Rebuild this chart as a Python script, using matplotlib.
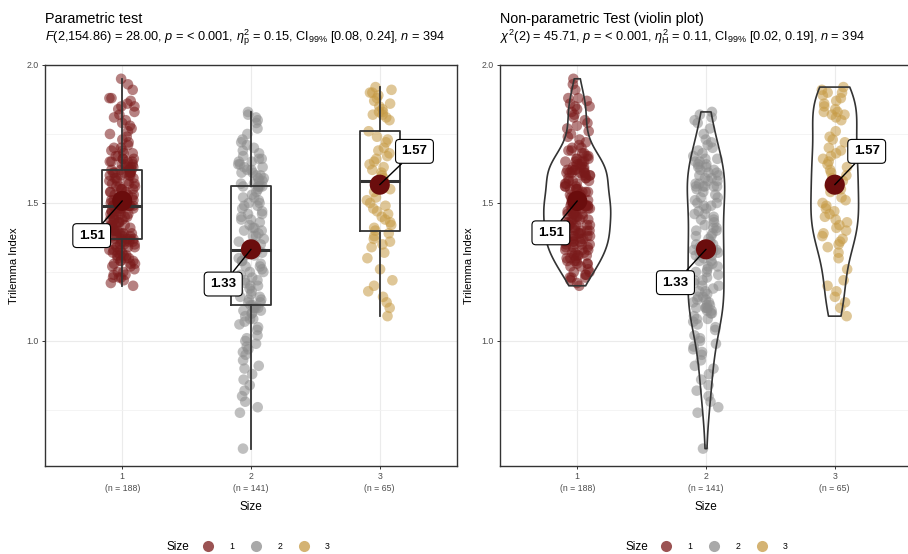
import numpy as np
import matplotlib.pyplot as plt
from matplotlib.lines import Line2D

plt.rcParams["font.family"] = ["Liberation Sans", "DejaVu Sans"]
plt.rcParams["mathtext.fontset"] = "custom"
plt.rcParams["mathtext.rm"] = "Liberation Sans"
plt.rcParams["mathtext.it"] = "Liberation Sans:italic"
plt.rcParams["mathtext.bf"] = "Liberation Sans:bold"

# --------------------------------------------------
# Data
# --------------------------------------------------
SIZE_LEVELS = ["1", "2", "3"]

size_1 = [
    1.20, 1.21, 1.22, 1.23, 1.23, 1.24, 1.24, 1.25, 1.25, 1.26,
    1.27, 1.28, 1.28, 1.28, 1.29, 1.29, 1.29, 1.30, 1.30, 1.30,
    1.31, 1.31, 1.31, 1.32, 1.32, 1.32, 1.33, 1.33, 1.33, 1.34,
    1.34, 1.34, 1.35, 1.35, 1.35, 1.35, 1.36, 1.36, 1.36, 1.36,
    1.37, 1.37, 1.37, 1.37, 1.37, 1.38, 1.38, 1.23, 1.27, 1.31,
    1.38, 1.38, 1.39, 1.39, 1.39, 1.39, 1.40, 1.40, 1.40, 1.40,
    1.41, 1.41, 1.41, 1.42, 1.42, 1.42, 1.42, 1.43, 1.43, 1.43,
    1.44, 1.44, 1.44, 1.44, 1.45, 1.45, 1.45, 1.46, 1.46, 1.46,
    1.46, 1.47, 1.47, 1.47, 1.47, 1.48, 1.48, 1.48, 1.48, 1.49,
    1.49, 1.49, 1.49, 1.49, 1.49, 1.49, 1.49,
    1.50, 1.50, 1.50, 1.51, 1.51, 1.51, 1.51, 1.52, 1.52, 1.52,
    1.53, 1.53, 1.53, 1.54, 1.54, 1.54, 1.55, 1.55, 1.55, 1.55,
    1.56, 1.56, 1.56, 1.57, 1.57, 1.57, 1.58, 1.58, 1.58, 1.59,
    1.59, 1.59, 1.60, 1.60, 1.60, 1.60, 1.61, 1.61, 1.61, 1.61,
    1.61, 1.61, 1.62, 1.62, 1.62, 1.62, 1.62,
    1.63, 1.63, 1.63, 1.64, 1.64, 1.64, 1.65, 1.65, 1.65, 1.66,
    1.65, 1.66, 1.66, 1.67, 1.67, 1.68, 1.68, 1.69, 1.69, 1.70,
    1.70, 1.71, 1.72, 1.73, 1.74, 1.75, 1.76, 1.77, 1.78, 1.79,
    1.80, 1.81, 1.82, 1.83, 1.84, 1.85, 1.85, 1.86, 1.87, 1.88,
    1.88, 1.91, 1.93, 1.95,
]

size_2 = [
    0.61, 0.74, 0.76, 0.78, 0.80, 0.82, 0.84, 0.86, 0.88, 0.90,
    0.91, 0.93, 0.95, 0.96, 0.97, 0.98, 0.99, 1.00, 1.01, 1.02,
    1.04, 1.05, 1.06, 1.07, 1.08, 1.08, 1.09, 1.10, 1.10, 1.11,
    1.11, 1.12, 1.12, 1.12, 1.12,
    1.13, 1.13, 1.14, 1.14, 1.15, 1.15, 1.16, 1.16, 1.17, 1.18,
    1.18, 1.19, 1.20, 1.20, 1.21, 1.22, 1.22, 1.23, 1.24, 1.25,
    1.25, 1.26, 1.27, 1.27, 1.28, 1.29, 1.29, 1.30, 1.31, 1.31,
    1.32, 1.32, 1.33, 1.33, 1.33,
    1.33,
    1.34, 1.35, 1.35, 1.36, 1.37, 1.38, 1.38, 1.39, 1.40, 1.41,
    1.40, 1.41, 1.42, 1.43, 1.44, 1.44, 1.45, 1.46, 1.46, 1.47,
    1.48, 1.49, 1.49, 1.50, 1.50, 1.51, 1.52, 1.52, 1.53, 1.54,
    1.55, 1.56, 1.56, 1.56, 1.56,
    1.56, 1.57, 1.57, 1.58, 1.58, 1.59, 1.59, 1.60, 1.60, 1.61,
    1.61, 1.62, 1.62, 1.63, 1.63, 1.64, 1.64, 1.65, 1.65, 1.66,
    1.66, 1.67, 1.68, 1.69, 1.70, 1.71, 1.72, 1.73, 1.75, 1.77,
    1.79, 1.80, 1.81, 1.82, 1.83,
]

size_3 = [
    1.09, 1.12, 1.14, 1.16, 1.18, 1.20, 1.22, 1.26, 1.30, 1.32,
    1.34, 1.35, 1.36, 1.37, 1.38, 1.39,
    1.40, 1.41, 1.42, 1.43, 1.44, 1.45, 1.46, 1.47, 1.48, 1.49,
    1.50, 1.51, 1.52, 1.54, 1.55, 1.56,
    1.58,
    1.59, 1.60, 1.61, 1.62, 1.63, 1.64, 1.65, 1.66, 1.67, 1.68,
    1.69, 1.70, 1.72, 1.73, 1.74, 1.76,
    1.80, 1.81, 1.82, 1.82, 1.83, 1.83, 1.84, 1.85, 1.86, 1.87,
    1.88, 1.89, 1.90, 1.90, 1.91, 1.92,
]

TITLES = ["Parametric test", "Non-parametric Test (violin plot)"]
SUBTITLES = [
    r"$\mathit{F}$(2,154.86) = 28.00, $\mathit{p}$ = < 0.001, "
    r"$\eta_{\mathrm{p}}^{2}$ = 0.15, CI$_{99\%}$ [0.08, 0.24], $\mathit{n}$ = 394",
    r"$\chi^{2}$(2) = 45.71, $\mathit{p}$ = < 0.001, "
    r"$\eta_{\mathrm{H}}^{2}$ = 0.11, CI$_{99\%}$ [0.02, 0.19], $\mathit{n}$ = 394",
]
Y_LABEL = "Trilemma Index"
X_LABEL = "Size"

COLORS = ["#7a1a1a", "#8c8c8c", "#c69a44"]
MEAN_COLOR = "#6b0d0d"
EDGE = "#333333"

groups = [np.array(size_1), np.array(size_2), np.array(size_3)]
positions = np.arange(1, len(groups) + 1)


def nrd0_factor(kde):
    """Bandwidth facon R (nrd0), exprimee en facteur de l'ecart-type."""
    x = np.ravel(kde.dataset)
    sd = np.std(x, ddof=1)
    iqr = np.subtract(*np.percentile(x, [75, 25]))
    bw = 0.9 * min(sd, iqr / 1.34) * len(x) ** -0.2
    return bw / sd


def jitter(n, seed, width=0.1):
    # decalage horizontal deterministe (hachage sinus), pas une donnee
    i = np.arange(n) + seed
    frac = (np.sin(i * 12.9898) * 43758.5453) % 1.0
    return (frac - 0.5) * 2 * width


def style_axes(ax):
    ax.set_xlim(0.4, 3.6)
    ax.set_ylim(0.547, 2.0)
    ax.set_yticks([1.0, 1.5, 2.0])
    ax.set_yticks([0.75, 1.25, 1.75], minor=True)
    ax.set_yticklabels(["1.0", "1.5", "2.0"])
    ax.set_xticks(positions)
    ax.set_xticklabels([f"{lvl}\n(n = {len(g)})" for lvl, g in zip(SIZE_LEVELS, groups)],
                       linespacing=1.35)
    ax.tick_params(axis="both", which="major", labelsize=6.3, labelcolor="#4d4d4d",
                   color=EDGE, length=2.5, width=0.7, pad=2)
    ax.tick_params(axis="y", which="minor", length=0)
    ax.grid(True, which="major", color="#ebebeb", lw=0.8)
    ax.grid(True, which="minor", axis="y", color="#f2f2f2", lw=0.6)
    ax.set_axisbelow(True)
    for spine in ax.spines.values():
        spine.set_color(EDGE)
        spine.set_linewidth(1.0)
    ax.set_ylabel(Y_LABEL, fontsize=8)
    ax.yaxis.set_label_coords(-0.063, 0.5)
    ax.set_xlabel(X_LABEL, fontsize=8.5)
    ax.xaxis.set_label_coords(0.5, -0.088)


def draw_points(ax, seed):
    for k, (pos, g, color) in enumerate(zip(positions, groups, COLORS)):
        ax.scatter(pos + jitter(len(g), seed + 1000 * k), g, s=58, color=color,
                   alpha=0.55, edgecolors="none", zorder=2)


def draw_means(ax, offsets):
    means = [g.mean() for g in groups]
    ax.scatter(positions, means, s=210, color=MEAN_COLOR, zorder=5, edgecolors="none")
    for pos, m, off in zip(positions, means, offsets):
        ax.annotate(
            f"{m:.2f}", xy=(pos, m), xytext=off, textcoords="offset points",
            ha="center", va="center", fontsize=9.5, fontweight="bold", zorder=6,
            bbox=dict(boxstyle="round,pad=0.45,rounding_size=0.3", fc="white", ec="black", lw=0.8),
            arrowprops=dict(arrowstyle="-", color="black", lw=1.0, shrinkA=0, shrinkB=0),
        )


def draw_legend(fig, x_title, x_keys):
    fig.text(x_title, 0.0135, "Size", fontsize=8.5, ha="right", va="center")
    handles = [
        Line2D([], [], marker="o", ls="none", markersize=8, color=c, alpha=0.75,
               markeredgewidth=0)
        for c in COLORS
    ]
    fig.legend(handles, SIZE_LEVELS, ncol=3, frameon=False, fontsize=6.3,
               loc="center left", bbox_to_anchor=(x_keys, 0.0135),
               handletextpad=1.8, columnspacing=1.9, handlelength=1.2,
               borderpad=0, borderaxespad=0)


W, H = 908, 554
fig = plt.figure(figsize=(W / 100, H / 100), dpi=100)

ax_left = fig.add_axes([45 / W, 1 - 466 / H, 412 / W, 401 / H])
ax_right = fig.add_axes([500 / W, 1 - 466 / H, 412 / W, 401 / H])

# --------------------------------------------------
# Panel gauche : boxplot
# --------------------------------------------------
draw_points(ax_left, 1)
ax_left.boxplot(
    groups, positions=positions, widths=0.31, showfliers=False, showcaps=False,
    boxprops=dict(color=EDGE, lw=1.3), whiskerprops=dict(color=EDGE, lw=1.3),
    medianprops=dict(color=EDGE, lw=2.2), zorder=3,
)
draw_means(ax_left, [(-22, -25), (-20, -25), (25, 24)])
style_axes(ax_left)

# --------------------------------------------------
# Panel droit : violon
# --------------------------------------------------
draw_points(ax_right, 501)
parts = ax_right.violinplot(groups, positions=positions, widths=[0.52, 0.29, 0.37],
                            showextrema=False, bw_method=nrd0_factor)
for body in parts["bodies"]:
    body.set_facecolor("none")
    body.set_edgecolor(EDGE)
    body.set_linewidth(1.2)
    body.set_alpha(1)
    body.set_zorder(3)
draw_means(ax_right, [(-19, -23), (-22, -24), (23, 24)])
style_axes(ax_right)

for x0, title, subtitle in zip([45, 500], TITLES, SUBTITLES):
    fig.text(x0 / W, 1 - 23 / H, title, fontsize=10.4, va="baseline")
    fig.text(x0 / W, 1 - 41 / H, subtitle, fontsize=9.2, va="baseline")

draw_legend(fig, 189 / W, 203 / W)
draw_legend(fig, 648 / W, 661 / W)

fig.savefig("out.png", dpi=100)
